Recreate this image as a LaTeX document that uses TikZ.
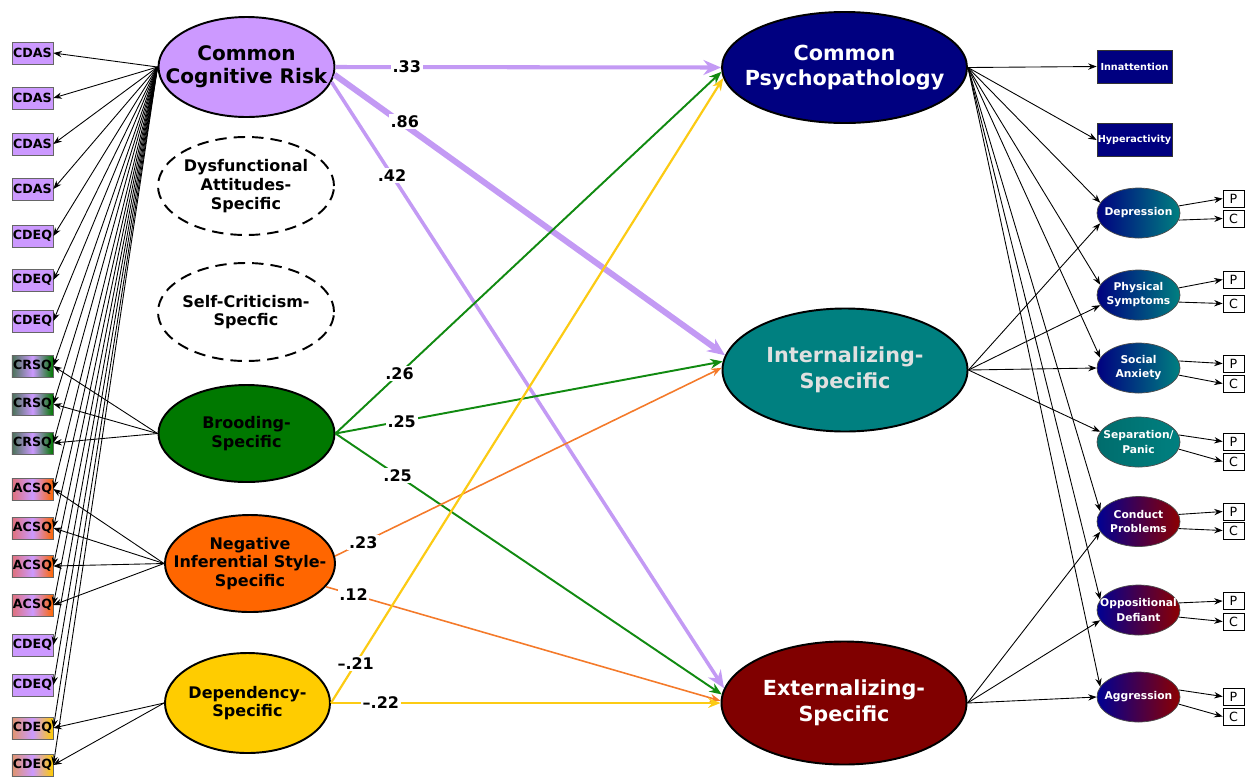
\documentclass[tikz,border=0pt]{standalone}
\usepackage{fontspec}
\setmainfont{DejaVu Sans}
\usetikzlibrary{shapes.geometric,arrows.meta}

\definecolor{lav}{HTML}{CC99FF}
\definecolor{lavline}{HTML}{C39AF4}
\definecolor{grn}{HTML}{007800}
\definecolor{grnline}{HTML}{118A11}
\definecolor{org}{HTML}{FF6600}
\definecolor{orgline}{HTML}{F47A2A}
\definecolor{yel}{HTML}{FFCC00}
\definecolor{yelline}{HTML}{FCCB14}
\definecolor{cpblue}{HTML}{000080}
\definecolor{inteal}{HTML}{008080}
\definecolor{exred}{HTML}{800000}
\definecolor{gnboxL}{HTML}{4A7258}
\definecolor{acboxL}{HTML}{E0707A}
\definecolor{dpboxL}{HTML}{E0946C}

\begin{document}
\begin{tikzpicture}[x=0.2mm, y=-0.2mm,
    every node/.style={font=\bfseries},
    ind/.style={-{Stealth[length=4.8pt,width=3.6pt]}, line width=0.5pt},
    ell/.style={ellipse, draw, line width=1.1pt, inner sep=0pt, minimum width=3.52cm, minimum height=1.96cm},
    dashell/.style={ell, dash pattern=on 6.5pt off 4pt},
    bigell/.style={ellipse, draw, line width=1.1pt, inner sep=0pt, minimum width=4.9cm, minimum height=2.46cm},
    cogtxt/.style={align=center, font=\bfseries\fontsize{11.4}{13}\selectfont},
    spectxt/.style={align=center, font=\bfseries\fontsize{9.1}{10.6}\selectfont},
    psytxt/.style={align=center, text=white, font=\bfseries\fontsize{11.8}{14.5}\selectfont},
    symtxt/.style={align=center, text=white, font=\bfseries\fontsize{6.1}{8}\selectfont},
    ibox/.style={draw=black!60, line width=0.4pt, minimum width=0.82cm, minimum height=0.44cm, inner sep=0pt, font=\bfseries\fontsize{7.2}{8}\selectfont},
    lavbox/.style={ibox, fill=lav},
    crbox/.style={ibox, left color=gnboxL, right color=grn, middle color=lav},
    acbox/.style={ibox, left color=acboxL, right color=org, middle color=lav},
    dpbox/.style={ibox, left color=dpboxL, right color=yel, middle color=lav},
    rbox/.style={draw=black!80, fill=cpblue, text=white, minimum width=1.5cm, minimum height=0.66cm, inner sep=0pt, font=\bfseries\fontsize{5.5}{6.5}\selectfont},
    sell/.style={ellipse, draw=black!70, line width=0.4pt, inner sep=0pt, minimum width=1.66cm, minimum height=1cm},
    ingrad/.style={sell, left color=cpblue, right color=inteal},
    exgrad/.style={sell, left color=cpblue!85!blue, right color=exred!90!red},
    pc/.style={draw, line width=0.4pt, fill=white, minimum width=0.42cm, minimum height=0.34cm, inner sep=0pt, font=\fontsize{7.2}{8}\selectfont},
    coef/.style={fill=white, inner sep=1pt, font=\bfseries\fontsize{9.1}{10}\selectfont},
    lpath/.style={draw=lavline, -{Stealth[length=10pt,width=8.5pt]}},
    gpath/.style={draw=grnline, line width=1.1pt, -{Stealth[length=7pt,width=5.5pt]}},
    opath/.style={draw=orgline, line width=0.9pt, -{Stealth[length=6pt,width=4.6pt]}},
    ypath/.style={draw=yelline, line width=1.25pt, -{Stealth[length=7pt,width=5.5pt]}}]

    \useasboundingbox (0,0) rectangle (1256,777);

    % measures on the left
    \node[lavbox] (cdas1) at (32.5,53) {CDAS};
    \node[lavbox] (cdas2) at (32.5,98) {CDAS};
    \node[lavbox] (cdas3) at (32.5,144) {CDAS};
    \node[lavbox] (cdas4) at (32.5,189) {CDAS};
    \node[lavbox] (cdeq1) at (32.5,236) {CDEQ};
    \node[lavbox] (cdeq2) at (32.5,280) {CDEQ};
    \node[lavbox] (cdeq3) at (32.5,321) {CDEQ};
    \node[crbox] (crsq1) at (32.5,366) {CRSQ};
    \node[crbox] (crsq2) at (32.5,404) {CRSQ};
    \node[crbox] (crsq3) at (32.5,443) {CRSQ};
    \node[acbox] (acsq1) at (32.5,489) {ACSQ};
    \node[acbox] (acsq2) at (32.5,528) {ACSQ};
    \node[acbox] (acsq3) at (32.5,566) {ACSQ};
    \node[acbox] (acsq4) at (32.5,605) {ACSQ};
    \node[lavbox] (cdeq4) at (32.5,645) {CDEQ};
    \node[lavbox] (cdeq5) at (32.5,685) {CDEQ};
    \node[dpbox] (cdeq6) at (32.5,728) {CDEQ};
    \node[dpbox] (cdeq7) at (32.5,765) {CDEQ};

    % cognitive risk factors
    \node[ell, fill=lav, minimum height=2cm, label={[cogtxt]center:Common\\Cognitive Risk}] (ccr) at (246.5,67) {};
    \node[dashell, label={[spectxt]center:Dysfunctional\\Attitudes-\\Specific}] (das) at (246,186) {};
    \node[dashell, label={[spectxt]center:Self-Criticism-\\Specfic}] (scs) at (246,312) {};
    \node[ell, fill=grn, minimum height=1.94cm, label={[spectxt]center:Brooding-\\Specific}] (bs) at (246.5,433.5) {};
    \node[ell, fill=org, minimum width=3.4cm, minimum height=1.94cm, label={[spectxt]center:Negative\\Inferential Style-\\Specific}] (nis) at (250,563.5) {};
    \node[ell, fill=yel, minimum width=3.3cm, minimum height=2cm, label={[spectxt]center:Dependency-\\Specific}] (dep) at (247.5,703) {};

    % psychopathology factors
    \node[bigell, fill=cpblue, minimum height=2.22cm, label={[psytxt]center:Common\\Psychopathology}] (cp) at (844.5,67.5) {};
    \node[bigell, fill=inteal, label={[psytxt, text=white!88!black]center:Internalizing-\\Specific}] (int) at (845,370) {};
    \node[bigell, fill=exred, label={[psytxt]center:Externalizing-\\Specific}] (ext) at (844,703) {};

    % symptom scales
    \node[rbox] (inn) at (1134.5,66.5) {Innattention};
    \node[rbox] (hyp) at (1134.5,140) {Hyperactivity};
    \node[ingrad, label={[symtxt]center:Depression}] (depr) at (1138.5,213) {};
    \node[ingrad, label={[symtxt]center:Physical\\Symptoms}] (phys) at (1138.5,295) {};
    \node[ingrad, label={[symtxt]center:Social\\Anxiety}] (soc) at (1138.5,368) {};
    \node[sell, left color=inteal!85!black, right color=inteal, label={[symtxt]center:Separation/\\Panic}] (sep) at (1138.5,442) {};
    \node[exgrad, label={[symtxt]center:Conduct\\Problems}] (cond) at (1138.5,521.5) {};
    \node[exgrad, label={[symtxt]center:Oppositional\\Defiant}] (opp) at (1138.5,610) {};
    \node[exgrad, label={[symtxt]center:Aggression}] (agg) at (1138.5,697) {};

    % parent and child reports
    \node[pc] (deprp) at (1233.5,198.5) {P};
    \node[pc] (deprc) at (1233.5,218.5) {C};
    \node[pc] (physp) at (1233.5,279.5) {P};
    \node[pc] (physc) at (1233.5,303.5) {C};
    \node[pc] (socp) at (1233.5,363.5) {P};
    \node[pc] (socc) at (1233.5,383.5) {C};
    \node[pc] (sepp) at (1233.5,441.5) {P};
    \node[pc] (sepc) at (1233.5,461.5) {C};
    \node[pc] (condp) at (1233.5,511.5) {P};
    \node[pc] (condc) at (1233.5,530.5) {C};
    \node[pc] (oppp) at (1233.5,601) {P};
    \node[pc] (oppc) at (1233.5,621.5) {C};
    \node[pc] (aggp) at (1233.5,696.5) {P};
    \node[pc] (aggc) at (1233.5,716.5) {C};

    % loadings of the cognitive factors
    \draw[ind] (ccr.west) -- (cdas1.east);
    \draw[ind] (ccr.west) -- (cdas2.east);
    \draw[ind] (ccr.west) -- (cdas3.east);
    \draw[ind] (ccr.west) -- (cdas4.east);
    \draw[ind] (ccr.west) -- (cdeq1.east);
    \draw[ind] (ccr.west) -- (cdeq2.east);
    \draw[ind] (ccr.west) -- (cdeq3.east);
    \draw[ind] (ccr.west) -- (crsq1.east);
    \draw[ind] (ccr.west) -- (crsq2.east);
    \draw[ind] (ccr.west) -- (crsq3.east);
    \draw[ind] (ccr.west) -- (acsq1.east);
    \draw[ind] (ccr.west) -- (acsq2.east);
    \draw[ind] (ccr.west) -- (acsq3.east);
    \draw[ind] (ccr.west) -- (acsq4.east);
    \draw[ind] (ccr.west) -- (cdeq4.east);
    \draw[ind] (ccr.west) -- (cdeq5.east);
    \draw[ind] (ccr.west) -- (cdeq6.east);
    \draw[ind] (ccr.west) -- (cdeq7.east);
    \draw[ind] (bs.west) -- (crsq1.east);
    \draw[ind] (bs.west) -- (crsq2.east);
    \draw[ind] (bs.west) -- (crsq3.east);
    \draw[ind] (nis.west) -- (acsq1.east);
    \draw[ind] (nis.west) -- (acsq2.east);
    \draw[ind] (nis.west) -- (acsq3.east);
    \draw[ind] (nis.west) -- (acsq4.east);
    \draw[ind] (dep.west) -- (cdeq6.east);
    \draw[ind] (dep.west) -- (cdeq7.east);

    % loadings of the psychopathology factors
    \draw[ind] (cp.east) -- (inn.west);
    \draw[ind] (cp.east) -- (hyp.west);
    \draw[ind] (cp.east) -- (depr.165);
    \draw[ind] (cp.east) -- (phys.165);
    \draw[ind] (cp.east) -- (soc.165);
    \draw[ind] (cp.east) -- (cond.165);
    \draw[ind] (cp.east) -- (opp.165);
    \draw[ind] (cp.east) -- (agg.165);
    \draw[ind] (int.east) -- (depr.195);
    \draw[ind] (int.east) -- (phys.195);
    \draw[ind] (int.east) -- (soc.west);
    \draw[ind] (int.east) -- (sep.165);
    \draw[ind] (ext.east) -- (cond.195);
    \draw[ind] (ext.east) -- (opp.195);
    \draw[ind] (ext.east) -- (agg.west);

    % reports
    \draw[ind] (depr.10) -- (deprp.west);
    \draw[ind] (depr.-10) -- (deprc.west);
    \draw[ind] (phys.10) -- (physp.west);
    \draw[ind] (phys.-10) -- (physc.west);
    \draw[ind] (soc.10) -- (socp.west);
    \draw[ind] (soc.-10) -- (socc.west);
    \draw[ind] (sep.10) -- (sepp.west);
    \draw[ind] (sep.-10) -- (sepc.west);
    \draw[ind] (cond.10) -- (condp.west);
    \draw[ind] (cond.-10) -- (condc.west);
    \draw[ind] (opp.10) -- (oppp.west);
    \draw[ind] (opp.-10) -- (oppc.west);
    \draw[ind] (agg.10) -- (aggp.west);
    \draw[ind] (agg.-10) -- (aggc.west);

    % structural paths
    \draw[lpath, line width=2.3pt] (ccr.east) -- (cp.west) node[coef, pos=0.185] (c33) {.33};
    \draw[lpath, line width=3.4pt] (ccr.-5) -- (int.173) node[coef, pos=0.18, yshift=2pt] (c86) {.86};
    \draw[lpath, line width=2pt] (ccr.-10) -- (ext.173) node[coef, pos=0.154] (c42) {.42};
    \draw[gpath] (bs.east) -- (cp.182) node[coef, pos=0.166] (c26) {.26};
    \draw[gpath] (bs.east) -- (int.176) node[coef, pos=0.171] (c25a) {.25};
    \draw[gpath] (bs.east) -- (ext.176) node[coef, pos=0.161] (c25b) {.25};
    \draw[opath] (nis.5) -- (int.179) node[coef, pos=0.073] (c23) {.23};
    \draw[opath] (nis.-17) -- (ext.179) node[coef, pos=0.07] (c12) {.12};
    \draw[ypath] (dep.east) -- (cp.185) node[coef, pos=0.063] (c21) {–.21};
    \draw[ypath] (dep.east) -- (ext.west) node[coef, pos=0.128] (c22) {–.22};
\end{tikzpicture}
\end{document}
